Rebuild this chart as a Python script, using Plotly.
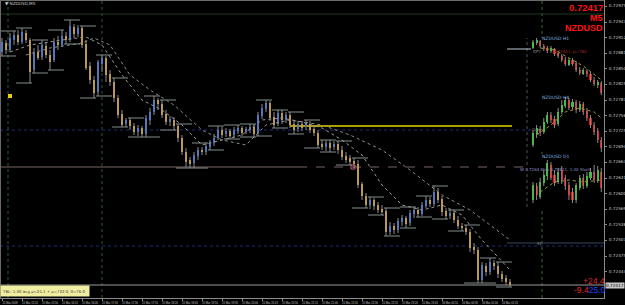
import plotly.graph_objects as go

# ---------------- main NZDUSD M5 candles ----------------
m5_open = [
    0.72883, 0.72901, 0.72887, 0.72907, 0.72917, 0.72903, 0.72921, 0.72907, 0.72847, 0.72883,
    0.72873, 0.72895, 0.72877, 0.72867, 0.72903, 0.72897, 0.72915, 0.72907, 0.72933, 0.72919,
    0.72931, 0.72899, 0.72855, 0.72827, 0.72803, 0.72859, 0.72871, 0.72839, 0.72823, 0.72791,
    0.72759, 0.72739, 0.72747, 0.72735, 0.72723, 0.72731, 0.72719, 0.72747, 0.72763, 0.72787,
    0.72779, 0.72759, 0.72743, 0.72747, 0.72735, 0.72711, 0.72683, 0.72667, 0.72661, 0.72675,
    0.72687, 0.72683, 0.72693, 0.72701, 0.72711, 0.72727, 0.72719, 0.72725, 0.72717, 0.72725,
    0.72731, 0.72723, 0.72727, 0.72733, 0.72721, 0.72755, 0.72769, 0.72781, 0.72753, 0.72739,
    0.72761, 0.72747, 0.72757, 0.72739, 0.72729, 0.72739, 0.72733, 0.72739, 0.72729, 0.72721,
    0.72699, 0.72693, 0.72701, 0.72693, 0.72699, 0.72687, 0.72675, 0.72671, 0.72665, 0.72659,
    0.72619, 0.72595, 0.72577, 0.72587, 0.72577, 0.72569, 0.72565, 0.72523, 0.72535, 0.72527,
    0.72543, 0.72551, 0.72541, 0.72559, 0.72567, 0.72559, 0.72575, 0.72587, 0.72579, 0.72603,
    0.72589, 0.72565, 0.72555, 0.72561, 0.72547, 0.72535, 0.72531, 0.72523, 0.72493, 0.72487,
    0.72427, 0.72455, 0.72443, 0.72461, 0.72455, 0.72439, 0.72431, 0.72423]
m5_high = [
    0.72911, 0.72907, 0.72921, 0.72925, 0.72927, 0.72931, 0.72927, 0.72911, 0.72891, 0.72897,
    0.72907, 0.72903, 0.72887, 0.72911, 0.72915, 0.72927, 0.72923, 0.72947, 0.72939, 0.72937,
    0.72935, 0.72907, 0.72863, 0.72835, 0.72867, 0.72877, 0.72875, 0.72847, 0.72831, 0.72797,
    0.72767, 0.72751, 0.72751, 0.72741, 0.72737, 0.72735, 0.72757, 0.72771, 0.72795, 0.72791,
    0.72787, 0.72767, 0.72755, 0.72753, 0.72739, 0.72717, 0.72691, 0.72673, 0.72683, 0.72693,
    0.72693, 0.72701, 0.72707, 0.72719, 0.72735, 0.72733, 0.72731, 0.72729, 0.72733, 0.72737,
    0.72735, 0.72733, 0.72739, 0.72739, 0.72763, 0.72779, 0.72787, 0.72785, 0.72763, 0.72767,
    0.72767, 0.72763, 0.72763, 0.72747, 0.72745, 0.72745, 0.72747, 0.72745, 0.72735, 0.72727,
    0.72707, 0.72707, 0.72707, 0.72705, 0.72705, 0.72695, 0.72683, 0.72677, 0.72671, 0.72667,
    0.72623, 0.72601, 0.72593, 0.72591, 0.72583, 0.72577, 0.72571, 0.72543, 0.72541, 0.72551,
    0.72557, 0.72555, 0.72567, 0.72573, 0.72573, 0.72583, 0.72595, 0.72593, 0.72615, 0.72611,
    0.72595, 0.72571, 0.72567, 0.72567, 0.72555, 0.72541, 0.72537, 0.72529, 0.72501, 0.72493,
    0.72463, 0.72461, 0.72471, 0.72467, 0.72463, 0.72445, 0.72437, 0.72429]
m5_low = [
    0.72875, 0.72879, 0.72883, 0.72897, 0.72897, 0.72899, 0.72901, 0.72821, 0.72841, 0.72867,
    0.72867, 0.72871, 0.72847, 0.72863, 0.72887, 0.72893, 0.72899, 0.72903, 0.72911, 0.72913,
    0.72891, 0.72847, 0.72819, 0.72791, 0.72795, 0.72843, 0.72823, 0.72815, 0.72783, 0.72751,
    0.72733, 0.72733, 0.72727, 0.72717, 0.72715, 0.72713, 0.72713, 0.72737, 0.72757, 0.72767,
    0.72751, 0.72737, 0.72735, 0.72727, 0.72703, 0.72677, 0.72653, 0.72651, 0.72651, 0.72667,
    0.72677, 0.72677, 0.72687, 0.72695, 0.72707, 0.72711, 0.72713, 0.72709, 0.72711, 0.72719,
    0.72715, 0.72719, 0.72721, 0.72713, 0.72715, 0.72749, 0.72763, 0.72745, 0.72731, 0.72735,
    0.72739, 0.72741, 0.72731, 0.72719, 0.72723, 0.72725, 0.72727, 0.72721, 0.72715, 0.72691,
    0.72687, 0.72685, 0.72683, 0.72687, 0.72679, 0.72667, 0.72661, 0.72657, 0.72651, 0.72611,
    0.72587, 0.72571, 0.72569, 0.72567, 0.72561, 0.72557, 0.72515, 0.72517, 0.72519, 0.72521,
    0.72535, 0.72531, 0.72535, 0.72551, 0.72553, 0.72555, 0.72571, 0.72573, 0.72575, 0.72581,
    0.72555, 0.72549, 0.72549, 0.72541, 0.72529, 0.72525, 0.72517, 0.72483, 0.72479, 0.72421,
    0.72421, 0.72435, 0.72437, 0.72447, 0.72431, 0.72423, 0.72417, 0.72413]
m5_close = [
    0.72903, 0.72887, 0.72911, 0.72917, 0.72903, 0.72923, 0.72907, 0.72843, 0.72883, 0.72871,
    0.72897, 0.72877, 0.72863, 0.72903, 0.72897, 0.72915, 0.72907, 0.72935, 0.72919, 0.72931,
    0.72897, 0.72851, 0.72827, 0.72801, 0.72863, 0.72871, 0.72837, 0.72823, 0.72791, 0.72757,
    0.72737, 0.72747, 0.72735, 0.72723, 0.72731, 0.72719, 0.72751, 0.72763, 0.72787, 0.72779,
    0.72757, 0.72743, 0.72749, 0.72735, 0.72711, 0.72683, 0.72663, 0.72659, 0.72677, 0.72687,
    0.72683, 0.72695, 0.72703, 0.72711, 0.72727, 0.72717, 0.72725, 0.72715, 0.72727, 0.72731,
    0.72721, 0.72729, 0.72733, 0.72719, 0.72757, 0.72771, 0.72781, 0.72751, 0.72737, 0.72761,
    0.72747, 0.72757, 0.72737, 0.72727, 0.72739, 0.72731, 0.72741, 0.72727, 0.72721, 0.72697,
    0.72693, 0.72701, 0.72691, 0.72699, 0.72687, 0.72673, 0.72667, 0.72663, 0.72659, 0.72617,
    0.72595, 0.72577, 0.72587, 0.72575, 0.72567, 0.72563, 0.72523, 0.72535, 0.72527, 0.72545,
    0.72551, 0.72539, 0.72561, 0.72567, 0.72559, 0.72577, 0.72587, 0.72579, 0.72603, 0.72587,
    0.72563, 0.72555, 0.72561, 0.72547, 0.72535, 0.72531, 0.72523, 0.72491, 0.72487, 0.72427,
    0.72457, 0.72443, 0.72463, 0.72455, 0.72439, 0.72429, 0.72423, 0.72417]

# dotted moving-average style indicator lines (bar index, price)
ma_fast_x = [2, 7, 15, 21, 25, 30, 35, 40, 45, 50, 55, 60, 65, 70, 75, 80, 85, 90, 95, 100, 105, 110, 115, 120, 127]
ma_fast_y = [0.72883, 0.72897, 0.72907, 0.72913, 0.72897, 0.72837, 0.72787, 0.72767, 0.72737, 0.72697,
             0.72707, 0.72717, 0.72747, 0.72751, 0.72743, 0.72731, 0.72707, 0.72677, 0.72617, 0.72577,
             0.72567, 0.72577, 0.72557, 0.72507, 0.72447]
ma_slow_x = [6, 12, 20, 23, 27, 32, 37, 43, 50, 55, 61, 66, 72, 80, 87, 95, 102, 110, 117, 122, 127]
ma_slow_y = [0.72877, 0.72891, 0.72901, 0.72911, 0.72897, 0.72837, 0.72807, 0.72777, 0.72727, 0.72707,
             0.72697, 0.72737, 0.72747, 0.72737, 0.72717, 0.72687, 0.72647, 0.72597, 0.72567, 0.72537, 0.72507]

# ---------------- mini panes (H1, H4, D1) ----------------
h1_open = [0.72880, 0.72930, 0.72950, 0.72900, 0.72880, 0.72850, 0.72870, 0.72830, 0.72800, 0.72760,
           0.72710, 0.72760, 0.72730, 0.72660, 0.72620, 0.72650, 0.72620, 0.72560, 0.72510, 0.72530]
h1_high = [0.72960, 0.72980, 0.72960, 0.72920, 0.72900, 0.72900, 0.72880, 0.72850, 0.72820, 0.72790,
           0.72780, 0.72780, 0.72750, 0.72690, 0.72680, 0.72670, 0.72640, 0.72590, 0.72560, 0.72550]
h1_low = [0.72870, 0.72910, 0.72880, 0.72850, 0.72830, 0.72830, 0.72800, 0.72780, 0.72740, 0.72700,
          0.72700, 0.72700, 0.72640, 0.72610, 0.72610, 0.72590, 0.72540, 0.72500, 0.72480, 0.72410]
h1_close = [0.72940, 0.72960, 0.72900, 0.72870, 0.72850, 0.72880, 0.72820, 0.72800, 0.72760, 0.72720,
            0.72760, 0.72720, 0.72660, 0.72630, 0.72660, 0.72620, 0.72560, 0.72520, 0.72540, 0.72430]
h1_ma_x = [2, 6, 10, 14, 19]
h1_ma_y = [0.72880, 0.72860, 0.72780, 0.72700, 0.72560]

h4_open = [0.72440, 0.72660, 0.72760, 0.72700, 0.72900, 0.73040, 0.72960, 0.72860, 0.73100, 0.73220,
           0.73340, 0.73200, 0.73300, 0.73140, 0.73260, 0.73120, 0.72980, 0.72840, 0.72720, 0.72540]
h4_high = [0.72740, 0.72840, 0.72820, 0.72980, 0.73100, 0.73100, 0.73020, 0.73180, 0.73340, 0.73400,
           0.73380, 0.73360, 0.73340, 0.73320, 0.73300, 0.73180, 0.73040, 0.72900, 0.72780, 0.72600]
h4_low = [0.72400, 0.72580, 0.72620, 0.72660, 0.72860, 0.72880, 0.72780, 0.72820, 0.73060, 0.73180,
          0.73140, 0.73140, 0.73080, 0.73100, 0.73040, 0.72920, 0.72780, 0.72640, 0.72480, 0.72300]
h4_close = [0.72680, 0.72780, 0.72680, 0.72900, 0.73040, 0.72940, 0.72840, 0.73100, 0.73240, 0.73340,
            0.73180, 0.73300, 0.73140, 0.73260, 0.73100, 0.72980, 0.72840, 0.72700, 0.72540, 0.72380]
h4_ma_x = [1, 5, 9, 13, 17, 19]
h4_ma_y = [0.72640, 0.72840, 0.73100, 0.73180, 0.73100, 0.72980]

d1_open = [0.71850, 0.72550, 0.72000, 0.72700, 0.73050, 0.73600, 0.73100, 0.72750, 0.73350, 0.72950,
           0.72600, 0.72250, 0.71850, 0.72450, 0.72950, 0.72550, 0.72950, 0.73250, 0.72800, 0.73250]
d1_high = [0.72750, 0.72700, 0.72950, 0.73350, 0.73850, 0.73750, 0.73350, 0.73450, 0.73550, 0.73100,
           0.72750, 0.72450, 0.72700, 0.73100, 0.73150, 0.73250, 0.73450, 0.73600, 0.73550, 0.73450]
d1_low = [0.71700, 0.71850, 0.71900, 0.72550, 0.72850, 0.72850, 0.72550, 0.72650, 0.72650, 0.72350,
          0.71850, 0.71700, 0.71700, 0.72350, 0.72400, 0.72450, 0.72850, 0.72700, 0.72700, 0.72250]
d1_close = [0.72600, 0.72100, 0.72750, 0.73100, 0.73700, 0.72950, 0.72700, 0.73250, 0.72850, 0.72550,
            0.72100, 0.71850, 0.72600, 0.72950, 0.72550, 0.73050, 0.73250, 0.72850, 0.73350, 0.72450]
d1_ma_x = [2, 6, 10, 14, 19]
d1_ma_y = [0.72250, 0.72750, 0.72850, 0.72750, 0.72850]

# ---------------- levels & labels ----------------
current_price = 0.72417
level_top = 0.72959
level_daily_open = 0.72889
level_blue_1 = 0.72727
level_yellow = 0.72735
level_pivot = 0.72653
level_s1 = 0.72501
level_blue_2 = 0.72495
price_ticks = [0.72444, 0.72475, 0.72507, 0.72538, 0.72569, 0.72600, 0.72631, 0.72663, 0.72694,
               0.72725, 0.72756, 0.72787, 0.72819, 0.72850, 0.72881, 0.72912, 0.72943, 0.72975]
time_labels = ["15 Mar 2018", "15 Mar 15:25", "15 Mar 15:50", "15 Mar 16:15", "15 Mar 16:40",
               "15 Mar 17:05", "15 Mar 17:30", "15 Mar 17:55", "15 Mar 18:20", "15 Mar 18:45",
               "15 Mar 19:10", "15 Mar 19:35", "15 Mar 20:00", "15 Mar 20:25", "15 Mar 20:50",
               "15 Mar 21:15", "15 Mar 21:40", "15 Mar 22:05", "15 Mar 22:30", "15 Mar 22:55",
               "15 Mar 23:20", "15 Mar 23:45", "16 Mar 00:10", "16 Mar 00:35", "16 Mar 01:00",
               "16 Mar 01:25"]

# ---------------- layout constants (pixels) ----------------
W, H = 625, 305
ML, MR, MT, MB = 0, 21, 0, 7
PW, PH = W - ML - MR, H - MT - MB


def px(xp):
    return xp / PW


def py(yp):
    return 1 - yp / PH


fig = go.Figure()


def add_candles(o, h, l, c, up, dn, wick, xa, ya, width, minh):
    n = len(o)
    wx, wy = [], []
    for i in range(n):
        wx += [i, i, None]
        wy += [l[i], h[i], None]
    fig.add_trace(go.Scatter(x=wx, y=wy, mode="lines", line=dict(color=wick, width=1),
                             xaxis=xa, yaxis=ya, hoverinfo="skip", showlegend=False))
    base = [min(a, b) for a, b in zip(o, c)]
    hts = [max(abs(b - a), minh) for a, b in zip(o, c)]
    cols = [up if b >= a else dn for a, b in zip(o, c)]
    fig.add_trace(go.Bar(x=list(range(n)), y=hts, base=base, width=width,
                         marker=dict(color=cols, line=dict(width=0)),
                         xaxis=xa, yaxis=ya, hoverinfo="skip", showlegend=False))


# group high/low brackets (higher-timeframe outlines)
bx, by = [], []
grp = 4
for g in range(0, len(m5_high), grp):
    hi = max(m5_high[g:g + grp])
    lo = min(m5_low[g:g + grp])
    bx += [g - 0.5, g + grp - 0.5, None, g - 0.5, g + grp - 0.5, None]
    by += [hi, hi, None, lo, lo, None]
fig.add_trace(go.Scatter(x=bx, y=by, mode="lines", line=dict(color="#828c8c", width=1),
                         hoverinfo="skip", showlegend=False))

fig.add_trace(go.Scatter(x=ma_slow_x, y=ma_slow_y, mode="lines", line=dict(color="#8a8a8a", width=1, dash="dot"),
                         hoverinfo="skip", showlegend=False))
fig.add_trace(go.Scatter(x=ma_fast_x, y=ma_fast_y, mode="lines", line=dict(color="#9a9a9a", width=1, dash="dot"),
                         hoverinfo="skip", showlegend=False))

add_candles(m5_open, m5_high, m5_low, m5_close, "#1a62ee", "#eba51a", "#8c8c8c", "x", "y", 0.7, 0.00002)

add_candles(h1_open, h1_high, h1_low, h1_close, "#10e010", "#f01010", "#8a8a8a", "x2", "y2", 0.6, 0.0001)
add_candles(h4_open, h4_high, h4_low, h4_close, "#10e010", "#f01010", "#8a8a8a", "x3", "y3", 0.6, 0.0002)
add_candles(d1_open, d1_high, d1_low, d1_close, "#10e010", "#f01010", "#8a8a8a", "x4", "y4", 0.6, 0.0005)
for mx, my, xa, ya in [(h1_ma_x, h1_ma_y, "x2", "y2"), (h4_ma_x, h4_ma_y, "x3", "y3"), (d1_ma_x, d1_ma_y, "x4", "y4")]:
    fig.add_trace(go.Scatter(x=mx, y=my, mode="lines", line=dict(color="#9a9a40", width=1, dash="dot"),
                             xaxis=xa, yaxis=ya, hoverinfo="skip", showlegend=False))

# markers
fig.add_trace(go.Scatter(x=[2], y=[0.72795], mode="markers",
                         marker=dict(symbol="square", size=4, color="#e8d000"), hoverinfo="skip", showlegend=False))
fig.add_trace(go.Scatter(x=[87.75], y=[level_pivot], mode="markers",
                         marker=dict(symbol="square-open", size=4, color="#d06070", line=dict(width=1)),
                         hoverinfo="skip", showlegend=False))

XMAX = 150.5
shapes = []


def hline(y, x0, x1, color, width=1, dash="solid"):
    shapes.append(dict(type="line", xref="x", yref="y", x0=x0, x1=x1, y0=y, y1=y,
                       line=dict(color=color, width=width, dash=dash), layer="below"))


def vline(x, y0, y1, color, dash="dot", yref="paper"):
    shapes.append(dict(type="line", xref="x", yref=yref, x0=x, x1=x, y0=y0, y1=y1,
                       line=dict(color=color, width=1, dash=dash), layer="below"))


hline(level_top, -0.5, XMAX, "#1f3a22", 1, "solid")
hline(level_blue_1, -0.5, XMAX, "#1c2f7a", 1, "dot")
hline(level_blue_2, -0.5, XMAX, "#1c2f7a", 1, "dot")
hline(level_pivot, -0.5, 74, "#7a6464", 1, "solid")
hline(level_pivot, 74, XMAX, "#7a6464", 1, "dash")
hline(level_yellow, 72, 127.5, "#e6d200", 1.5, "solid")
hline(level_s1, 126.25, XMAX, "#34485c", 1, "solid")
hline(level_daily_open, 126.25, XMAX, "#b8c8d8", 1, "solid")
hline(current_price, -0.5, XMAX, "#9a9a9a", 1, "solid")
vline(1.5, 0, 1, "#2e5a2e")
vline(25, 0, 1, "#2e5a2e")
vline(135, 0, 1, "#3a6a3a")
vline(131.25, py(207), py(38), "#505050")
# frame lines
shapes.append(dict(type="line", xref="paper", yref="paper", x0=0, x1=1, y0=1, y1=1,
                   line=dict(color="#6a6a6a", width=2)))
shapes.append(dict(type="line", xref="paper", yref="paper", x0=0, x1=0, y0=0, y1=1,
                   line=dict(color="#6a6a6a", width=2)))

small = "DejaVu Sans"
narrow = "Liberation Sans Narrow, Liberation Sans, Arial"
ann = []


def text(xp, yp, t, color, size, xanchor="left", yanchor="middle", bold=False, **kw):
    if bold:
        t = "<b>" + t + "</b>"
    ann.append(dict(xref="paper", yref="paper", x=px(xp), y=py(yp), text=t, showarrow=False,
                    xanchor=xanchor, yanchor=yanchor, font=dict(color=color, size=size, family=kw.pop("family", small)),
                    **kw))


text(3, 3, "▼ NZDUSD,M5", "#d0d0d0", 4.2)
text(605, 7, "0.72417", "#ff1414", 9.5, xanchor="right", bold=True, family="Liberation Sans")
text(605, 17.5, "M5", "#ff1414", 9, xanchor="right", bold=True, family="Liberation Sans")
text(605, 27.5, "NZDUSD", "#ff1414", 9, xanchor="right", bold=True, family="Liberation Sans")
text(540, 38, "NZDUSD H1", "#8ab8e0", 4.5)
text(540, 97, "NZDUSD H4", "#8ab8e0", 4.5)
text(540, 156, "NZDUSD D1", "#8ab8e0", 4.5)
text(531, 52, "DPY", "#8a8a8a", 4)
text(552, 52, "0.72811, p=780", "#a02828", 4)
text(530, 129, "Open", "#8a8a8a", 4)
text(518, 169, "W 0.7264 8hrs 0.72811, 1:30 Short", "#9090c0", 4)
text(535, 243, "S1", "#909090", 4)
text(607, 281, "+24.4", "#d83030", 8.5, xanchor="right", family="Liberation Sans")
text(607, 290, '<span style="color:#e02828">-9.4</span><span style="color:#2040ff">25.0</span>',
     "#e02828", 8.5, xanchor="right", family="Liberation Sans")
text(0, 291, "TBL: 1:30 avg p=24.1 + p=732.0, 0=76.0", "#404040", 3.9,
     bgcolor="#f0eea0", width=86, height=8, align="left")
# current price tag on the price scale
ann.append(dict(xref="paper", yref="y", x=1, y=current_price, text="0.72417", showarrow=False,
                xanchor="left", yanchor="middle", xshift=1, font=dict(color="#000000", size=4.2, family=small),
                bgcolor="#c8c8c8", borderpad=0))

fig.update_layout(
    width=W, height=H, autosize=False,
    margin=dict(l=ML, r=MR, t=MT, b=MB),
    paper_bgcolor="#000000", plot_bgcolor="#000000",
    barmode="overlay", bargap=0, showlegend=False, hovermode=False,
    shapes=shapes, annotations=ann,
    xaxis=dict(domain=[0, 1], range=[-0.5, XMAX], showgrid=False, zeroline=False,
               tickvals=list(range(0, len(m5_close), 5)), ticktext=time_labels,
               tickfont=dict(size=2.7, color="#c8c8c8", family=narrow), ticks="outside", ticklen=2,
               tickcolor="#8a8a8a", showline=True, linecolor="#8a8a8a", linewidth=1,
               ticklabelshift=8, ticklabelstandoff=0, tickangle=0),
    yaxis=dict(domain=[0, 1], range=[0.72391, 0.72987], side="right", showgrid=False, zeroline=False,
               tickvals=price_ticks, ticktext=["%.5f" % v for v in price_ticks],
               tickfont=dict(size=4.2, color="#c8c8c8", family=small), ticks="outside", ticklen=2,
               tickcolor="#8a8a8a", showline=True, linecolor="#8a8a8a", linewidth=1, ticklabelstandoff=1),
    xaxis2=dict(domain=[px(531), 1], range=[-0.55, 19.75], visible=False, anchor="y2"),
    yaxis2=dict(domain=[py(95), py(38)], range=[0.72410, 0.72980], visible=False, anchor="x2"),
    xaxis3=dict(domain=[px(531), 1], range=[-0.55, 19.75], visible=False, anchor="y3"),
    yaxis3=dict(domain=[py(152), py(97)], range=[0.72300, 0.73400], visible=False, anchor="x3"),
    xaxis4=dict(domain=[px(531), 1], range=[-0.55, 19.75], visible=False, anchor="y4"),
    yaxis4=dict(domain=[py(208), py(157)], range=[0.71450, 0.74000], visible=False, anchor="x4"),
)

fig.write_html("out.html")
